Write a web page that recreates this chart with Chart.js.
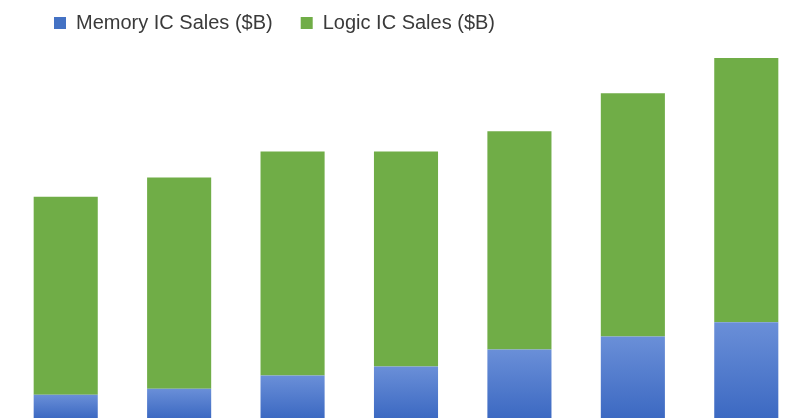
<!DOCTYPE html>
<html>
<head>
<meta charset="utf-8">
<script src="https://cdn.jsdelivr.net/npm/chart.js@4"></script>
<style>
  html, body { margin: 0; padding: 0; background: #fff; overflow: hidden; }
  #wrap { position: absolute; left: 0; top: 0; width: 803px; height: 460px; }
</style>
</head>
<body>
<div id="wrap"><canvas id="chart"></canvas></div>
<script>
// values (the axis is hidden and the bars run off the bottom)
const years = ['2016', '2017', '2018', '2019', '2020', '2021', '2022'];
const memorySales = [32.5, 35.5, 42, 46.5, 55, 61.5, 68.5];
const logicSales = [98.5, 105, 111.5, 107, 108.5, 121, 132.5];

// blue bars fade from light at the top to darker at the bottom
const memoryFill = (ctx) => {
    const chart = ctx.chart;
    const area = chart.chartArea;
    if (!area || ctx.type !== 'data') return '#4472C4';
    const top = chart.scales.y.getPixelForValue(ctx.parsed.y);
    const g = chart.ctx.createLinearGradient(0, top, 0, 418);
    g.addColorStop(0, '#6A8FD8');
    g.addColorStop(1, '#3C69C2');
    return g;
};

// nudge the legend to where it sits in the original
const legendShift = {
    id: 'legendShift',
    afterLayout(chart) {
        chart.legend.left += 17;
        chart.legend.top -= 15;
    }
};

new Chart(document.getElementById('chart'), {
    type: 'bar',
    data: {
        labels: years,
        datasets: [
            { label: 'Memory IC Sales ($B)', data: memorySales, backgroundColor: memoryFill,
              barPercentage: 0.565, categoryPercentage: 1 },
            { label: 'Logic IC Sales ($B)', data: logicSales, backgroundColor: '#70AD47',
              barPercentage: 0.565, categoryPercentage: 1 }
        ]
    },
    options: {
        responsive: true,
        maintainAspectRatio: false,
        animation: false,
        layout: { padding: { left: 9, right: 0, top: 0, bottom: 0 } },
        plugins: {
            legend: {
                position: 'top',
                align: 'start',
                labels: {
                    boxWidth: 12,
                    boxHeight: 12,
                    padding: 28,
                    color: '#3a3a3a',
                    font: { family: 'Liberation Sans, Arial, sans-serif', size: 20 },
                    generateLabels: (chart) => chart.data.datasets.map((ds, i) => ({
                        text: ds.label,
                        fillStyle: i === 0 ? '#4472C4' : '#70AD47',
                        strokeStyle: 'transparent',
                        lineWidth: 0,
                        datasetIndex: i,
                        fontColor: '#3a3a3a'
                    }))
                }
            },
            tooltip: { enabled: false }
        },
        scales: {
            x: { stacked: true, display: false },
            y: { stacked: true, display: false, min: 0, max: 200 }
        }
    },
    plugins: [legendShift]
});
</script>
</body>
</html>
